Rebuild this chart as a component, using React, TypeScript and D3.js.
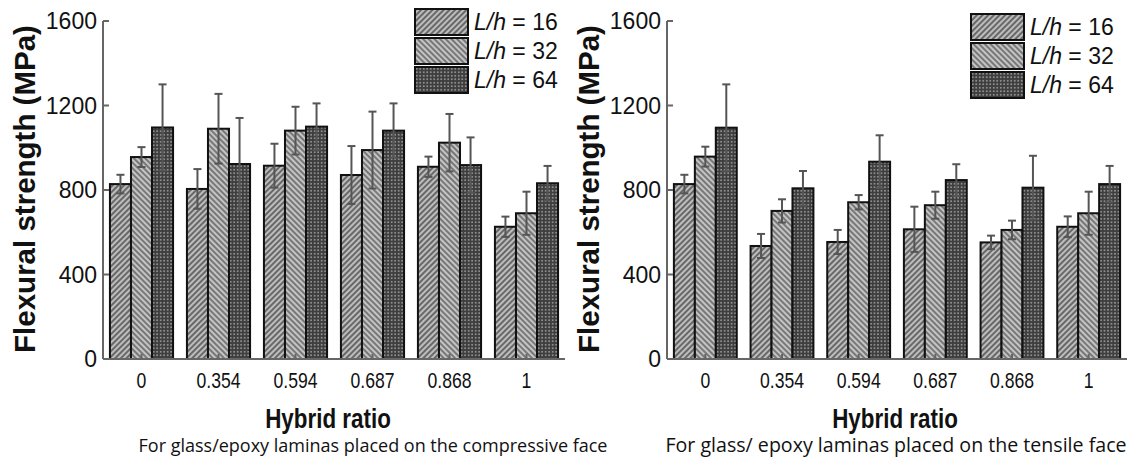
import React from 'react'
import * as d3 from 'd3'

const ratios = ['0', '0.354', '0.594', '0.687', '0.868', '1']
const seriesNames = ['16', '32', '64']

// compressive face (left panel)
const compMean16 = [828, 805, 915, 871, 910, 626]
const compErr16 = [44, 94, 104, 137, 48, 48]
const compMean32 = [956, 1090, 1081, 989, 1024, 690]
const compErr32 = [47, 165, 113, 182, 136, 102]
const compMean64 = [1096, 923, 1100, 1081, 918, 832]
const compErr64 = [204, 218, 110, 129, 131, 82]

// tensile face (right panel)
const tensMean16 = [828, 535, 554, 614, 552, 626]
const tensErr16 = [44, 57, 57, 107, 32, 49]
const tensMean32 = [958, 701, 742, 728, 611, 690]
const tensErr32 = [47, 55, 34, 64, 44, 102]
const tensMean64 = [1095, 808, 934, 847, 811, 828]
const tensErr64 = [205, 82, 125, 75, 151, 86]

const yTicks = [0, 400, 800, 1200, 1600]

const W = 1130
const H = 461
const fills = ['url(#hatchA)', 'url(#hatchB)', 'url(#dots)']

interface IPanelProps {
  x0: number
  x1: number
  means: number[][]
  errs: number[][]
  caption: string
  captionX: number
  captionSize: number
  titleX: number
  legendX: number
  legendY: number
}

const Panel = (props: IPanelProps) => {
  const y = d3.scaleLinear().domain([0, 1600]).range([359, 21])
  const x = d3.scaleBand().domain(ratios).range([props.x0, props.x1]).paddingInner(0.18).paddingOuter(0.09)
  const xs = d3.scaleBand().domain(seriesNames).range([0, x.bandwidth()])
  const capW = 4

  return (
    <g>
      {/* bars */}
      {ratios.map((r, i) => (
        <g key={r} transform={`translate(${x(r)},0)`}>
          {seriesNames.map((s, k) => (
            <rect
              key={s}
              x={xs(s)}
              y={y(props.means[k][i])}
              width={xs.bandwidth()}
              height={y(0) - y(props.means[k][i])}
              fill={fills[k]}
              stroke="#111"
              strokeWidth={2}
            />
          ))}
          {seriesNames.map((s, k) => {
            const cx = (xs(s) as number) + xs.bandwidth() / 2
            const top = y(props.means[k][i] + props.errs[k][i])
            const bot = y(props.means[k][i] - props.errs[k][i])
            return (
              <g key={s} stroke="#555" strokeWidth={2}>
                <line x1={cx} x2={cx} y1={top} y2={bot} />
                <line x1={cx - capW} x2={cx + capW} y1={top} y2={top} />
                <line x1={cx - capW} x2={cx + capW} y1={bot} y2={bot} />
              </g>
            )
          })}
        </g>
      ))}

      {/* axes */}
      <g stroke="#666" strokeWidth={2}>
        <line x1={props.x0} x2={props.x0} y1={y(1600)} y2={y(0)} />
        <line x1={props.x0} x2={props.x1} y1={y(0)} y2={y(0)} />
        {yTicks.map((t) => (
          <line key={t} x1={props.x0} x2={props.x0 + 6} y1={y(t)} y2={y(t)} />
        ))}
        {ratios.map((r) => (
          <line key={r} x1={(x(r) as number) + x.bandwidth() / 2} x2={(x(r) as number) + x.bandwidth() / 2} y1={y(0)} y2={y(0) - 5} />
        ))}
      </g>
      {yTicks.map((t) => (
        <text key={t} x={props.x0 - 6} y={y(t)} dy="0.36em" textAnchor="end" fontFamily="'Liberation Sans', Arial, sans-serif" fontSize={23} fill="#111">
          {t}
        </text>
      ))}
      {ratios.map((r) => (
        <text
          key={r}
          transform={`translate(${(x(r) as number) + x.bandwidth() / 2},388) scale(0.8,1)`}
          textAnchor="middle"
          fontFamily="'Liberation Sans', Arial, sans-serif"
          fontSize={22}
          fill="#111"
        >
          {r}
        </text>
      ))}
      <text
        transform={`translate(${props.x0 - 78},${189}) rotate(-90)`}
        textAnchor="middle"
        dy="0.35em"
        fontFamily="'Liberation Sans', Arial, sans-serif"
        fontWeight="bold"
        fontSize={29.5}
        fill="#111"
      >
        Flexural strength (MPa)
      </text>
      <text
        transform={`translate(${props.titleX},428) scale(0.8,1)`}
        textAnchor="middle"
        fontFamily="'Liberation Sans', Arial, sans-serif"
        fontWeight="bold"
        fontSize={28}
        fill="#111"
      >
        Hybrid ratio
      </text>
      <text x={props.captionX} y={452} textAnchor="middle" fontFamily="'Open Sans', sans-serif" fontSize={props.captionSize} fill="#111">
        {props.caption}
      </text>

      {/* legend */}
      {seriesNames.map((s, k) => (
        <g key={s} transform={`translate(${props.legendX},${props.legendY + k * 29})`}>
          <rect x={0} y={0} width={53} height={26} fill={fills[k]} stroke="#111" strokeWidth={2} />
          <text x={59} y={21} fontFamily="'Liberation Sans', Arial, sans-serif" fontSize={23} fill="#111">
            <tspan fontStyle="italic">L/h</tspan> = {s}
          </text>
        </g>
      ))}
    </g>
  )
}

const App = () => {
  return (
    <svg width={W} height={H} style={{ position: 'absolute', left: 0, top: 0, background: '#fff' }}>
      <defs>
        <pattern id="hatchA" width={4} height={4} patternUnits="userSpaceOnUse" patternTransform="rotate(45)">
          <rect width={4} height={4} fill="#bdbdbd" />
          <line x1={1} x2={1} y1={0} y2={4} stroke="#3a3a3a" strokeWidth={1.3} />
        </pattern>
        <pattern id="hatchB" width={4} height={4} patternUnits="userSpaceOnUse" patternTransform="rotate(-45)">
          <rect width={4} height={4} fill="#c4c4c4" />
          <line x1={1} x2={1} y1={0} y2={4} stroke="#444" strokeWidth={1.2} />
        </pattern>
        <pattern id="dots" width={3.5} height={3.5} patternUnits="userSpaceOnUse">
          <rect width={3.5} height={3.5} fill="#3e3e3e" />
          <circle cx={1.75} cy={1.75} r={0.9} fill="#a8a8a8" />
        </pattern>
      </defs>
      <rect width={W} height={H} fill="#fff" />
      <Panel
        x0={103}
        x1={565}
        means={[compMean16, compMean32, compMean64]}
        errs={[compErr16, compErr32, compErr64]}
        caption="For glass/epoxy laminas placed on the compressive face"
        captionX={373}
        captionSize={18}
        titleX={328}
        legendX={415}
        legendY={9}
      />
      <Panel
        x0={667}
        x1={1127}
        means={[tensMean16, tensMean32, tensMean64]}
        errs={[tensErr16, tensErr32, tensErr64]}
        caption="For glass/ epoxy laminas placed on the tensile face"
        captionX={896}
        captionSize={19.6}
        titleX={895}
        legendX={971}
        legendY={14}
      />
    </svg>
  )
}

export default App
